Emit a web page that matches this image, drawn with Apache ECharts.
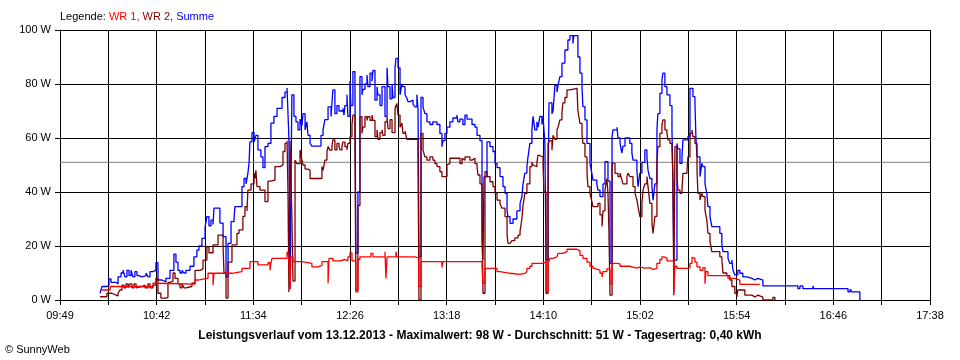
<!DOCTYPE html>
<html>
<head>
<meta charset="utf-8">
<script src="https://cdn.jsdelivr.net/npm/echarts@6/dist/echarts.min.js"></script>
<style>
html,body{margin:0;padding:0;background:#fff;}
#chart{width:960px;height:360px;}
</style>
</head>
<body>
<div id="chart"></div>
<script>
// x values: minutes after 09:49 ; y values: Watt
const xTickLabels = ["09:49","10:42","11:34","12:26","13:18","14:10","15:02","15:54","16:46","17:38"];
const xSpanMinutes = 469;
const yTickStep = 20;
const averageW = 51;
const legendNames = ["WR 1", "WR 2", "Summe"];
const titleText = "Leistungsverlauf vom 13.12.2013 - Maximalwert: 98 W - Durchschnitt: 51 W - Tagesertrag: 0,40 kWh";

const summe = [
[21.6,2.5],[22.6,5],[25.3,5.5],[26.4,7.8],[27.5,6.5],[30.2,6],[31.3,8.6],[32.9,10],[34.0,11],[35.0,8.6],[36.1,11],[37.2,9],[38.3,11],[39.3,8.6],[40.4,10.5],[41.5,9],[42.6,8.6],[44.2,9],[46.4,10],[47.4,8.6],[48.5,10.5],[50.1,11],[51.7,13.8],[52.8,7.4],[55.0,6.7],[57.1,8],[59.3,11],[61.4,17],[62.5,14],[63.6,11],[64.7,10],[65.8,11],[66.8,10],[67.9,11],[70.1,12.5],[72.2,16],[73.8,18.5],[74.9,20],[76.5,22.8],[78.2,27],[79.2,30.9],[80.3,27.5],[81.4,29.6],[82.5,28],[83.0,34],[86.2,28.5],[87.9,23.5],[89.5,8.6],[90.6,21],[92.2,29],[93.8,30],[94.3,34.6],[98.1,42],[99.2,45],[100.3,43],[101.3,47],[101.9,50.6],[102.4,58.6],[103.5,62],[104.6,58.5],[105.6,61],[106.7,55.6],[108.3,53],[109.4,49],[110.5,56.8],[112.1,58],[113.7,65.5],[115.3,68],[117.0,71],[119.7,75],[121.3,77],[122.4,78.5],[123.4,60],[124.0,4],[125.0,76],[126.1,68],[127.2,66],[128.3,63],[129.4,67],[130.4,64.5],[131.0,69],[132.1,63],[133.1,66],[133.7,61],[134.8,58],[135.8,57],[140.7,61],[141.8,63],[142.8,66.8],[144.5,71.5],[146.1,68],[147.1,77.8],[148.2,69],[149.3,72],[150.4,70],[152.5,71],[153.1,68.5],[153.6,72],[154.7,76],[155.2,68],[156.3,81],[156.8,72],[157.9,84.6],[159.0,80],[159.5,17.4],[160.6,40],[161.7,82.7],[162.8,76],[163.3,78],[164.4,80],[165.5,83.3],[166.0,79],[167.1,84],[168.2,81],[168.7,85],[169.8,74],[170.9,79],[171.4,76],[172.5,72],[173.6,79],[175.2,68],[176.3,86],[176.8,79],[177.9,74.5],[179.0,80],[179.5,75],[180.6,86],[181.1,89.5],[182.2,86],[183.3,76],[184.3,80],[184.9,79],[186.0,76],[187.0,74.7],[187.6,73.5],[188.7,74],[190.3,72.5],[191.3,71.5],[192.4,76],[193.0,70.5],[193.5,16],[194.6,75],[195.7,71.5],[196.7,69],[197.8,66],[199.4,65],[201.0,66],[203.2,65],[204.8,61.7],[205.9,56.8],[206.4,59],[207.5,61.7],[208.6,64],[210.2,66],[211.8,67.4],[214.0,68.5],[214.5,66],[215.6,67],[217.2,65],[218.3,68.5],[219.4,67],[222.1,65],[223.7,64],[224.8,61],[226.4,59],[227.5,21.6],[228.0,14.8],[228.6,45.6],[230.2,58.6],[231.8,56.8],[233.4,55],[234.5,50.6],[235.6,49],[237.2,45.7],[238.8,42],[239.9,39.5],[241.0,33],[241.5,30.9],[242.6,28.4],[244.2,30],[246.3,33],[248.0,35.8],[249.0,38.3],[249.6,43],[250.6,47],[251.7,49.4],[252.3,53],[253.3,58],[254.4,63],[255.0,68],[256.0,63],[257.1,66],[257.7,64],[258.7,68],[259.8,65],[260.4,68],[260.9,63],[261.4,58],[262.0,14.8],[263.1,40],[263.6,73],[265.2,69],[265.8,70],[266.8,79.6],[267.9,77],[268.5,79.6],[269.5,82.7],[270.6,87.7],[272.2,92.6],[273.8,96.3],[274.9,97.9],[276.5,95],[277.0,97.9],[279.2,90],[280.3,84],[281.4,79],[281.9,71.6],[283.0,66.7],[284.1,58],[285.7,50.6],[286.7,47],[287.3,44.4],[289.4,43],[290.0,40.7],[291.1,38.3],[292.7,43],[293.8,51.2],[295.4,44],[296.5,13.6],[297.6,60.5],[298.1,63],[300.3,64],[300.8,60],[301.9,58],[302.9,54.4],[303.5,57],[304.6,60],[307.2,58],[308.3,54.4],[308.9,51.8],[311.0,48],[311.6,42],[312.6,47],[313.7,51],[315.3,55.6],[316.4,53],[317.0,48],[318.0,45],[319.1,42],[319.7,37],[320.7,43],[321.8,63],[322.3,69],[323.4,76.5],[324.5,81.5],[325.0,84],[326.1,79],[327.2,76],[328.8,72],[329.9,63],[330.4,44],[330.9,14.8],[332.6,58],[333.1,56],[334.2,50.6],[335.3,53],[335.8,59.3],[338.5,60.5],[339.6,78.4],[341.2,75.3],[342.3,72.8],[342.8,60.5],[343.4,53],[345.0,45.7],[346.0,50.6],[346.6,49.4],[347.7,43],[348.7,39.5],[349.3,34.6],[350.4,30.9],[351.4,27.2],[355.7,24.7],[356.8,20.4],[357.4,17.9],[360.1,15.4],[361.1,13.6],[362.2,14.8],[362.8,11],[363.8,9.3],[365.4,11],[366.5,9.9],[368.1,8.6],[370.3,8],[373.0,7.4],[374.6,8],[376.2,7.4],[378.9,5.2],[397.8,4.2],[398.9,5.2],[400.5,4.2],[405.9,5.2],[406.4,4.2],[424.8,3],[425.9,4],[426.9,3],[431.2,0]
];

const wr2 = [
[21.6,1.2],[25.3,2.5],[28.0,2],[29.6,1.5],[31.3,2.5],[32.3,3.7],[33.4,5.5],[34.5,4.5],[35.6,6],[36.7,4.5],[37.7,6],[38.8,4.5],[39.9,6],[41.0,4.5],[42.0,5],[44.2,5.5],[45.8,4.5],[47.4,6],[48.5,4.5],[50.1,5.5],[51.7,8],[52.8,2.5],[54.4,0.7],[57.1,1],[58.2,6.5],[59.3,7],[60.9,10],[62.0,8],[63.6,6],[64.7,4.5],[65.8,6],[66.8,4.5],[67.9,5],[71.1,6.2],[72.8,11],[75.5,11.5],[77.1,14.8],[79.2,19.7],[80.3,17.5],[82.5,20.4],[85.2,24],[87.9,20],[88.4,10],[89.5,0.7],[90.6,14],[92.7,20.4],[95.4,24.7],[96.5,26],[98.6,31],[99.7,34.6],[100.8,33],[101.3,40.7],[103.0,43],[104.6,47],[105.1,45],[105.6,48],[106.2,42],[107.8,40.7],[110.5,36.4],[112.1,44],[113.7,44.4],[115.9,49.4],[118.6,50],[120.2,55],[121.3,58],[122.4,59],[122.9,40],[123.4,3],[124.0,59],[125.0,31],[125.6,7],[126.7,51.8],[127.7,50.5],[129.4,55.6],[130.4,51.8],[131.0,50],[132.1,48.5],[133.7,48],[134.8,45],[141.2,49.4],[141.8,48],[142.8,51.8],[143.9,55],[144.5,56.8],[145.5,55.5],[146.6,56.8],[147.1,59.3],[148.2,55.6],[149.3,58],[150.4,56.8],[150.9,55.6],[152.0,56.8],[152.5,58.5],[153.6,56.8],[154.7,55.6],[155.2,58],[156.3,60.5],[157.4,64.8],[157.9,68.5],[159.0,60],[159.5,3.7],[160.6,35],[161.7,67.9],[162.8,61.7],[163.3,64],[164.4,67.9],[165.5,66.5],[166.0,67.9],[167.1,66.5],[168.2,68.5],[168.7,66.5],[169.8,60.5],[170.9,63],[171.4,59.5],[172.5,62],[173.6,63],[174.1,61],[175.2,66],[176.3,67.9],[176.8,63.5],[177.9,66.8],[179.0,62],[180.6,71],[181.6,72.8],[182.2,68.5],[183.3,64],[184.3,65.5],[184.9,61.7],[186.0,62.5],[187.0,59.5],[193.0,55.6],[193.5,0],[194.6,61.7],[195.7,55.6],[196.7,53],[197.8,51.8],[199.4,53],[201.0,51.8],[202.1,50.5],[203.2,49.4],[204.8,47.5],[205.9,45.7],[208.6,50],[209.1,50.6],[210.2,52.5],[214.0,51.8],[214.5,52.5],[215.6,50.5],[216.7,52.5],[217.2,51.8],[218.3,53],[221.0,51.8],[222.1,52.5],[223.7,50.5],[224.8,49.4],[225.3,46.3],[226.4,43],[227.5,35],[228.0,2.5],[229.1,47.5],[230.2,45.7],[231.8,43.8],[233.4,42],[234.5,39.5],[235.6,37],[237.2,35.8],[238.2,34],[239.9,30.9],[241.0,24],[241.5,21],[242.6,20.5],[243.6,22],[245.2,23],[246.9,24],[248.0,25.5],[249.0,30],[249.6,35],[250.6,39.5],[251.7,43],[253.3,49.4],[254.4,51],[255.0,50],[256.0,49.4],[257.1,51],[257.7,53.7],[258.7,53],[260.4,50],[260.9,40],[262.0,2.5],[263.1,58],[264.1,59],[265.2,55.5],[265.8,61],[266.8,59.5],[267.9,63],[268.5,64],[269.5,66.7],[270.6,69.5],[271.1,73],[272.2,75],[273.3,77.8],[274.9,78.4],[278.7,77.8],[279.2,70],[279.8,67.5],[280.3,65.4],[281.4,61.5],[281.9,58],[283.0,53],[284.1,47],[284.6,42],[285.7,39.5],[286.7,36.5],[287.3,34.6],[290.0,35.8],[291.1,31.5],[292.2,27.2],[292.7,33],[293.8,40.7],[294.8,45],[295.4,39.5],[295.9,26],[296.5,1.8],[297.6,50.6],[299.2,46.9],[300.8,45.7],[301.9,47],[302.9,44.4],[303.5,43],[305.6,45.7],[306.2,47],[307.2,45.7],[308.9,42],[310.0,39.5],[311.0,37],[311.6,34.6],[312.6,30.9],[313.7,35.8],[314.3,40.7],[315.3,43],[316.4,45.7],[317.0,42],[318.0,35.8],[319.1,28.4],[319.7,24.7],[320.7,31],[321.8,50.6],[322.3,56.8],[323.4,61.7],[324.5,64.8],[325.0,66.7],[326.1,63],[327.2,61.7],[327.7,59.3],[328.8,58],[329.9,57],[330.4,45.7],[330.9,1.8],[331.5,56.8],[332.6,45.7],[333.1,40.7],[334.2,39.5],[335.3,40.7],[335.8,46.9],[338.0,48],[338.5,53],[339.6,61.7],[340.7,63],[341.2,60.5],[342.3,58],[343.4,48],[343.9,39.5],[345.0,37],[346.0,39.5],[346.6,38.3],[347.7,33.3],[348.7,29.6],[349.3,24.7],[350.4,21.6],[351.4,17.9],[355.7,16],[356.8,14.8],[357.4,10],[359.5,9],[361.1,7.4],[362.2,5],[363.8,2.5],[364.9,1.1],[365.4,3.7],[369.2,1.8],[373.0,1.1],[374.6,1.8],[376.2,1.1],[378.9,0],[384.3,1],[385.4,0]
];

const wr1 = [
[22.6,3.7],[27.0,5],[50.1,6.2],[52.3,5.9],[72.8,7.4],[74.4,8.1],[79.8,9.9],[82.5,5.5],[83.0,9.9],[92.7,10.5],[98.1,11.7],[102.4,14.2],[106.7,13],[112.1,13.8],[113.2,11],[113.7,13.8],[114.3,15.4],[122.4,17.9],[123.4,16],[124.0,4],[124.5,16],[125.6,14.2],[130.4,13.6],[135.8,12.3],[139.1,12.8],[141.2,14.2],[144.5,6.2],[145.0,15.4],[147.1,14.5],[150.9,15],[153.6,14.5],[155.2,16],[156.3,17.4],[157.4,14.5],[159.5,3],[160.6,15],[161.7,16],[167.6,17.3],[168.7,16],[175.2,17.9],[175.7,8],[176.3,16],[181.1,17.9],[181.6,16],[191.3,15.5],[193.5,5],[194.6,14.2],[205.9,12],[206.4,14.2],[227.5,12.5],[228.0,6.2],[229.1,11.7],[235.6,10.5],[237.2,9.9],[242.6,9.5],[248.0,9.9],[250.6,10.5],[251.7,11.7],[253.3,12.5],[254.4,13.6],[260.4,14.2],[262.0,3],[263.1,13.6],[264.1,15.4],[265.8,14.8],[266.8,16],[267.9,16.5],[268.5,17.3],[271.1,17.9],[273.3,18.8],[278.7,18.2],[280.3,16.5],[281.9,15.4],[284.1,14],[285.7,12.5],[287.3,11.7],[288.4,11],[291.1,9.9],[292.2,8.5],[292.7,10.5],[294.8,11.5],[296.5,6],[297.6,13.6],[300.3,13.4],[301.9,12.5],[307.2,12.2],[308.9,11.8],[311.0,12.2],[312.6,11.8],[315.3,12],[318.0,11.3],[319.7,11.7],[321.8,13.6],[323.4,15],[324.5,16],[325.6,15.5],[327.2,14.5],[330.9,3],[331.5,12.5],[332.6,11.7],[338.0,12],[339.6,13.6],[340.7,15.8],[341.7,15.5],[342.3,14],[343.4,12.3],[345.0,11],[346.6,12],[347.7,6],[348.2,10.5],[349.3,9],[360.1,8],[363.8,7.4],[366.5,5.8],[377.3,5.8]
];

const FONT = '"Liberation Sans", Arial, sans-serif';
const xInterval = xSpanMinutes / (xTickLabels.length - 1) / 2;

const chart = echarts.init(document.getElementById('chart'), null, {renderer: 'canvas'});
chart.setOption({
  animation: false,
  backgroundColor: '#ffffff',
  grid: {left: 60, right: 30, top: 30, bottom: 60, containLabel: false},
  xAxis: {
    type: 'value', min: 0, max: xSpanMinutes, interval: xInterval,
    axisLine: {show: true, lineStyle: {color: '#000', width: 1}},
    axisTick: {show: true, length: 5, lineStyle: {color: '#000'}},
    splitLine: {show: true, lineStyle: {color: '#000', width: 1}},
    axisLabel: {
      color: '#000', fontFamily: FONT, fontSize: 11, margin: 10, showMinLabel: true, showMaxLabel: true,
      formatter: function (v) {
        const i = Math.round(v / xInterval);
        return (i % 2 === 0) ? (xTickLabels[i / 2] || '') : '';
      }
    }
  },
  yAxis: {
    type: 'value', min: 0, max: 100, interval: yTickStep,
    axisLine: {show: true, lineStyle: {color: '#000', width: 1}},
    axisTick: {show: true, length: 5, lineStyle: {color: '#000'}},
    splitLine: {show: true, lineStyle: {color: '#000', width: 1}},
    axisLabel: {color: '#000', fontFamily: FONT, fontSize: 11, margin: 9, formatter: '{value} W'}
  },
  series: [
    {name: 'avg', type: 'line', data: [[0, averageW], [xSpanMinutes, averageW]], symbol: 'none',
     lineStyle: {color: '#808080', width: 1}, silent: true, z: 1},
    {name: legendNames[2], type: 'line', step: 'end', data: summe, symbol: 'none',
     lineStyle: {color: '#0000ff', width: 1.3}, z: 2},
    {name: legendNames[1], type: 'line', step: 'end', data: wr2, symbol: 'none',
     lineStyle: {color: '#800000', width: 1.3}, z: 3},
    {name: legendNames[0], type: 'line', step: 'end', data: wr1, symbol: 'none',
     lineStyle: {color: '#ff0000', width: 1.3}, z: 4}
  ],
  graphic: [
    {type: 'text', left: 60, top: 11, style: {
      text: '{k|Legende: }{a|' + legendNames[0] + ', }{b|' + legendNames[1] + ', }{c|' + legendNames[2] + '}',
      font: '11px ' + FONT,
      rich: {
        k: {fill: '#000', fontSize: 11, fontFamily: FONT},
        a: {fill: '#ff0000', fontSize: 11, fontFamily: FONT},
        b: {fill: '#800000', fontSize: 11, fontFamily: FONT},
        c: {fill: '#0000ff', fontSize: 11, fontFamily: FONT}
      }
    }},
    {type: 'text', left: 'center', top: 330, style: {
      text: titleText, fill: '#000', font: 'bold 12px ' + FONT
    }},
    {type: 'text', left: 5, top: 344, style: {
      text: '\u00A9 SunnyWeb', fill: '#000', font: '11px ' + FONT
    }}
  ]
});
</script>
</body>
</html>
